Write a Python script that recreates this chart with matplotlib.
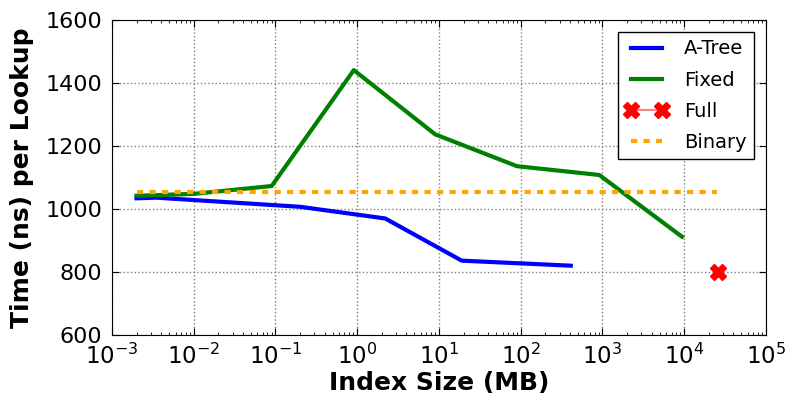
import matplotlib
matplotlib.use("Agg")
import matplotlib.pyplot as plt

# index size (MB) vs lookup time (ns)
atree_x = [0.002, 0.0035, 0.2, 2.2, 19, 410]
atree_y = [1034, 1036, 1007, 970, 836, 820]

fixed_x = [0.002, 0.01, 0.09, 0.91, 9, 90, 915, 9400]
fixed_y = [1042, 1048, 1073, 1441, 1237, 1136, 1108, 912]

full_x = [25700]
full_y = [800]

binary_x = [0.002, 25000]
binary_y = [1055, 1055]

plt.rcParams["font.family"] = "DejaVu Sans"
plt.rcParams["mathtext.default"] = "regular"

fig = plt.figure(figsize=(7.88, 4.09), dpi=100)
ax = fig.add_axes([0.142, 0.181, 0.83, 0.77])

ax.plot(atree_x, atree_y, color="blue", lw=3, label="A-Tree")
ax.plot(fixed_x, fixed_y, color="green", lw=3, label="Fixed")
ax.plot(full_x, full_y, color="red", marker="X", markersize=11, lw=1.5,
        label="Full")
ax.plot(binary_x, binary_y, color="orange", lw=3, dashes=(1.5, 1.5),
        label="Binary")

ax.set_xscale("log")
ax.set_xlim(1e-3, 1e5)
ax.set_ylim(600, 1600)
ax.set_yticks(range(600, 1601, 200))

ax.grid(True, color="gray", linestyle=":", linewidth=1)
ax.tick_params(direction="in", top=True, right=True, which="both")
ax.tick_params(which="major", length=5)
ax.tick_params(which="minor", length=2.5)
ax.tick_params(axis="y", labelsize=16, pad=7)
ax.tick_params(axis="x", labelsize=16.5, pad=6)

ax.set_xlabel("Index Size (MB)", fontsize=18, fontweight="bold", labelpad=2)
ax.set_ylabel("Time (ns) per Lookup", fontsize=18, fontweight="bold",
              labelpad=8)

leg = ax.legend(loc="upper right", fontsize=14, numpoints=2, fancybox=False,
                framealpha=1, edgecolor="black", handlelength=2.2,
                labelspacing=0.62, borderaxespad=0.6)
leg.get_frame().set_linewidth(1)
full_handle = leg.legend_handles[2]
full_handle.set_color((1, 0.5, 0.5))
full_handle.set_markerfacecolor("red")
full_handle.set_markeredgecolor("red")

fig.savefig("out.png", dpi=100)
